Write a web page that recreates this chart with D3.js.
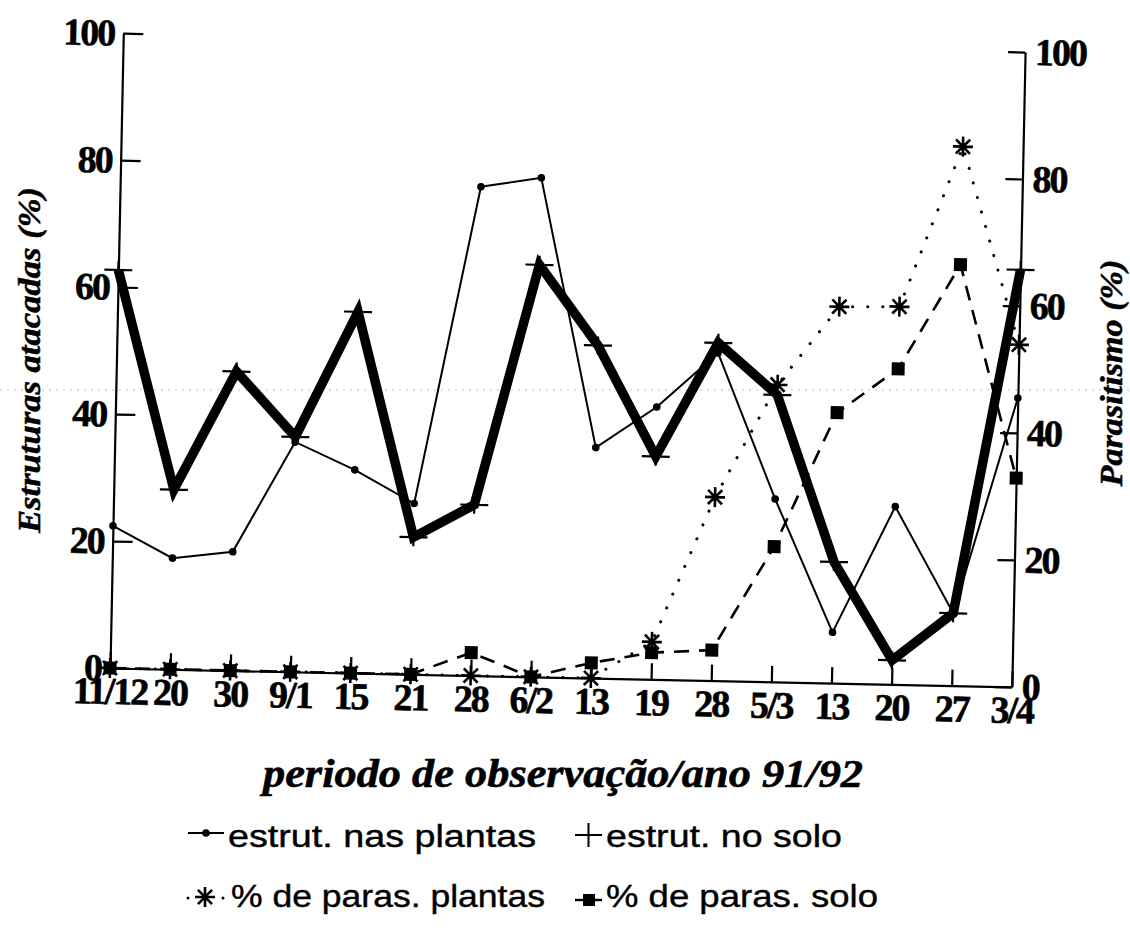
<!DOCTYPE html>
<html>
<head>
<meta charset="utf-8">
<script src="https://cdn.jsdelivr.net/npm/d3@7"></script>
<style>
  html, body { margin: 0; padding: 0; background: #fff; }
</style>
</head>
<body>
<script>
// ---------- data ----------
const categories = ["11/12","20","30","9/1","15","21","28","6/2","13","19","28","5/3","13","20","27","3/4"];
const estrutPlantas = [22.4, 17.5, 18.7, 36.2, 32.0, 26.9, 77.0, 78.6, 36.3, 42.9, 51.6, 28.8, 8.0, 28.0, 11.4, 45.5];
const estrutSolo    = [62.7, 28.3, 47.1, 37.0, 56.9, 21.6, 26.9, 64.9, 52.4, 35.1, 53.2, 45.2, 19.1, 3.8, 11.4, 65.7];
const parasPlantas  = [0, 0, 0, 0, 0, 0, 0, 0, 0, 5.9, 28.9, 46.8, 59.3, 59.5, 84.9, 53.9];
const parasSolo     = [0, 0, 0, 0, 0, 0, 3.6, 0, 2.4, 4.2, 4.8, 21.3, 42.6, 49.7, 66.3, 32.9];
const leftTicks  = [0, 20, 40, 60, 80, 100];
const rightTicks = [0, 20, 40, 60, 80, 100];
const legendLabels = ["estrut. nas plantas", "estrut. no solo", "% de paras. plantas", "% de paras. solo"];

// ---------- setup ----------
const W = 1130, H = 935;
const svg = d3.select("body").append("svg").attr("width", W).attr("height", H);
svg.append("rect").attr("width", W).attr("height", H).attr("fill", "#fff");

const serif = "'Liberation Serif', 'DejaVu Serif', serif";
const sans = "'Liberation Sans', Arial, sans-serif";

// faint scan guide line
svg.append("line").attr("x1", 0).attr("x2", W).attr("y1", 390).attr("y2", 390)
  .attr("stroke", "#bbb").attr("stroke-width", 1).attr("stroke-dasharray", "2 5");

// plot group (slightly skewed like the scan)
const plotW = 902, plotH = 635;
const plot = svg.append("g").attr("transform", "translate(110,668) rotate(1.2)");

const x = d3.scalePoint().domain(d3.range(categories.length)).range([0, plotW]);
const y = d3.scaleLinear().domain([0, 100]).range([0, -plotH]);
const yR = d3.scaleLinear().domain([0, 100]).range([0, -plotH]);

function styleAxis(g, size, ls) {
  g.select(".domain").attr("stroke", "#000").attr("stroke-width", 2.2);
  g.selectAll(".tick line").attr("stroke", "#000").attr("stroke-width", 2.2);
  g.selectAll(".tick text").attr("fill", "#000")
    .attr("stroke", "#000").attr("stroke-width", 0.6)
    .attr("letter-spacing", ls)
    .style("font-family", serif).style("font-weight", "bold").style("font-size", size + "px");
}

// bottom axis
const gx = plot.append("g")
  .call(d3.axisBottom(x).tickSize(-16).tickSizeOuter(0).tickPadding(9).tickFormat(i => categories[i]));
styleAxis(gx, 38, -2);

// left axis
const gl = plot.append("g")
  .call(d3.axisLeft(y).tickValues(leftTicks).tickSize(-20).tickSizeOuter(0).tickPadding(9).tickFormat(d3.format("d")));
styleAxis(gl, 38, -2);

// right axis
const gr = plot.append("g").attr("transform", `translate(${plotW},0)`)
  .call(d3.axisRight(yR).tickValues(rightTicks).tickSize(-17).tickSizeOuter(0).tickPadding(10).tickFormat(d3.format("d")));
styleAxis(gr, 38, -2);

// ---------- lines ----------
const lineL = d3.line().x((d, i) => x(i)).y(d => y(d));
const lineR = d3.line().x((d, i) => x(i)).y(d => yR(d));

plot.append("path").datum(parasPlantas).attr("d", lineR)
  .attr("fill", "none").attr("stroke", "#000").attr("stroke-width", 3)
  .attr("stroke-linecap", "round").attr("stroke-dasharray", "0.1 15");

plot.append("path").datum(parasSolo).attr("d", lineR)
  .attr("fill", "none").attr("stroke", "#000").attr("stroke-width", 2.6)
  .attr("stroke-dasharray", "15 10");

plot.append("path").datum(estrutPlantas).attr("d", lineL)
  .attr("fill", "none").attr("stroke", "#000").attr("stroke-width", 2);

plot.append("path").datum(estrutSolo).attr("d", lineL)
  .attr("fill", "none").attr("stroke", "#000").attr("stroke-width", 9.5)
  .attr("stroke-linejoin", "miter");

// ---------- markers ----------
function asteriskPath(r) {
  const a = r * Math.SQRT1_2;
  return `M${-r},0L${r},0M0,${-r}L0,${r}M${-a},${-a}L${a},${a}M${-a},${a}L${a},${-a}`;
}

plot.append("g").selectAll("circle").data(estrutPlantas).join("circle")
  .attr("cx", (d, i) => x(i)).attr("cy", d => y(d)).attr("r", 3.8).attr("fill", "#000");

plot.append("g").selectAll("path").data(estrutSolo).join("path")
  .attr("transform", (d, i) => `translate(${x(i)},${y(d)})`)
  .attr("d", "M-14,0L14,0M0,-9L0,9")
  .attr("stroke", "#000").attr("stroke-width", 2.2).attr("fill", "none");

plot.append("g").selectAll("path").data(parasPlantas).join("path")
  .attr("transform", (d, i) => `translate(${x(i)},${yR(d)})`)
  .attr("d", asteriskPath(10))
  .attr("stroke", "#000").attr("stroke-width", 2.6).attr("fill", "none");

plot.append("g").selectAll("rect").data(parasSolo).join("rect")
  .attr("x", (d, i) => x(i) - 6.5).attr("y", d => yR(d) - 6.5)
  .attr("width", 13).attr("height", 13).attr("fill", "#000");

// ---------- axis titles ----------
svg.append("text")
  .attr("transform", "translate(40,360) rotate(-90)")
  .attr("text-anchor", "middle")
  .attr("textLength", 346).attr("lengthAdjust", "spacingAndGlyphs")
  .attr("stroke", "#000").attr("stroke-width", 0.5)
  .style("font-family", serif).style("font-weight", "bold").style("font-style", "italic")
  .style("font-size", "31px")
  .text("Estruturas atacadas (%)");

svg.append("text")
  .attr("transform", "translate(1122,373) rotate(-90)")
  .attr("text-anchor", "middle")
  .attr("textLength", 227).attr("lengthAdjust", "spacingAndGlyphs")
  .attr("stroke", "#000").attr("stroke-width", 0.5)
  .style("font-family", serif).style("font-weight", "bold").style("font-style", "italic")
  .style("font-size", "31px")
  .text("Parasitismo (%)");

svg.append("text")
  .attr("x", 563).attr("y", 787)
  .attr("text-anchor", "middle")
  .attr("textLength", 600).attr("lengthAdjust", "spacingAndGlyphs")
  .attr("stroke", "#000").attr("stroke-width", 0.6)
  .style("font-family", serif).style("font-weight", "bold").style("font-style", "italic")
  .style("font-size", "41px")
  .text("periodo de observação/ano 91/92");

// ---------- legend ----------
const leg = svg.append("g");
const legFont = g => g.style("font-family", sans).style("font-size", "31px").attr("fill", "#000")
  .attr("stroke", "#000").attr("stroke-width", 0.4)
  .attr("lengthAdjust", "spacingAndGlyphs");

// row 1, item 1: thin line with dot
leg.append("line").attr("x1", 188).attr("x2", 224).attr("y1", 833).attr("y2", 833)
  .attr("stroke", "#000").attr("stroke-width", 2);
leg.append("circle").attr("cx", 206).attr("cy", 833).attr("r", 3.8).attr("fill", "#000");
leg.append("text").attr("x", 228).attr("y", 847).attr("textLength", 308).call(legFont).text(legendLabels[0]);

// row 1, item 2: plus
leg.append("path").attr("d", "M575,835L602,835M588.5,823L588.5,847")
  .attr("stroke", "#000").attr("stroke-width", 2).attr("fill", "none");
leg.append("text").attr("x", 606).attr("y", 847).attr("textLength", 236).call(legFont).text(legendLabels[1]);

// row 2, item 1: dotted with asterisk
leg.append("circle").attr("cx", 188).attr("cy", 898).attr("r", 1.5).attr("fill", "#000");
leg.append("circle").attr("cx", 223).attr("cy", 898).attr("r", 1.5).attr("fill", "#000");
leg.append("path").attr("transform", "translate(205,897)").attr("d", asteriskPath(10))
  .attr("stroke", "#000").attr("stroke-width", 2.6).attr("fill", "none");
leg.append("text").attr("x", 231).attr("y", 907).attr("textLength", 314).call(legFont).text(legendLabels[2]);

// row 2, item 2: dashed with square
leg.append("line").attr("x1", 575).attr("x2", 602).attr("y1", 900).attr("y2", 900)
  .attr("stroke", "#000").attr("stroke-width", 2.4);
leg.append("rect").attr("x", 583).attr("y", 894).attr("width", 12).attr("height", 12).attr("fill", "#000");
leg.append("text").attr("x", 606).attr("y", 907).attr("textLength", 272).call(legFont).text(legendLabels[3]);
</script>
</body>
</html>
